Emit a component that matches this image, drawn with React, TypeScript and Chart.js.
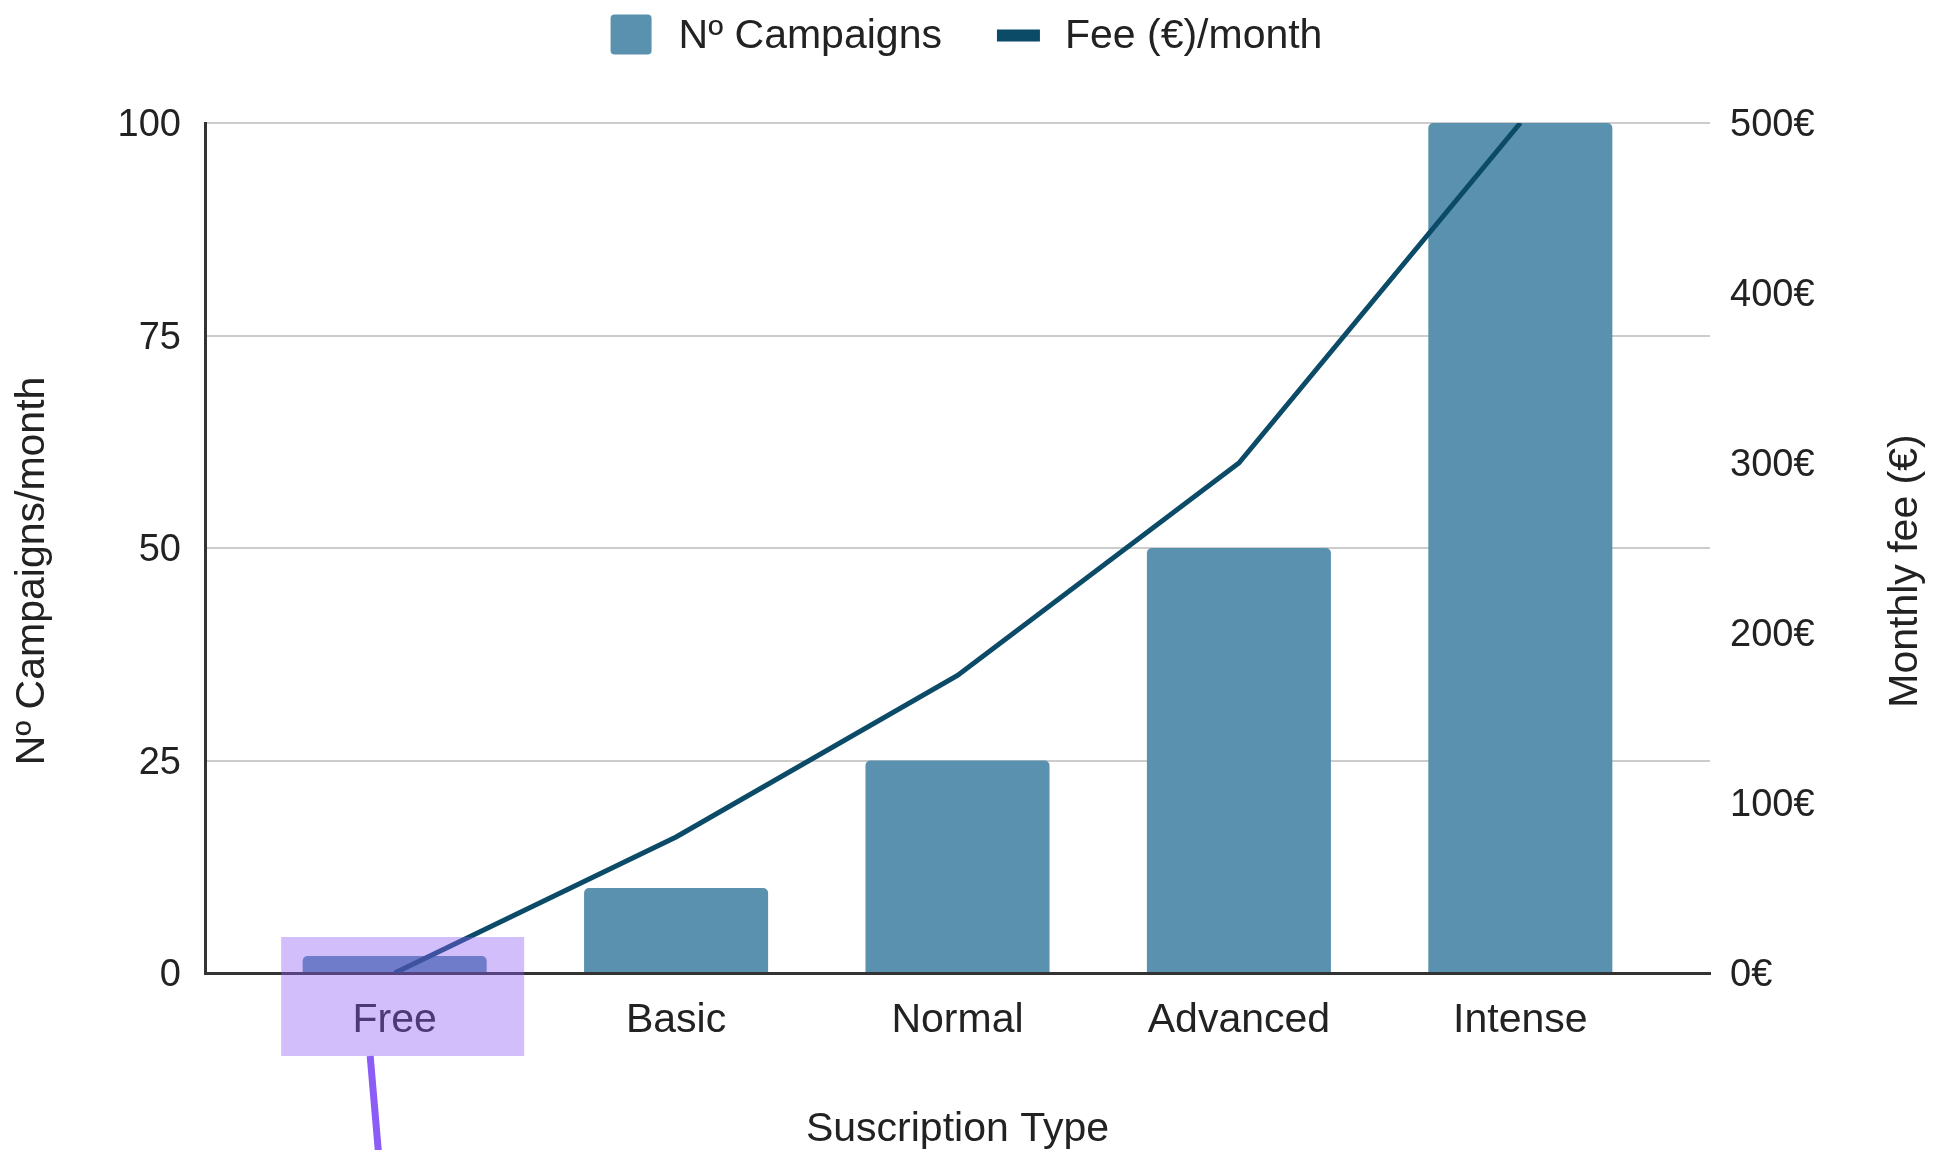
import React, { useEffect, useRef } from "react";
import { Chart, registerables } from "chart.js";

Chart.register(...registerables);

const categories = ["Free", "Basic", "Normal", "Advanced", "Intense"];
const campaigns = [2, 10, 25, 50, 100];
const fees = [0, 80, 175, 300, 500];
const leftTicks = [0, 25, 50, 75, 100];
const rightTicks = [0, 100, 200, 300, 400, 500];
const seriesNames = ["Nº Campaigns", "Fee (€)/month"];
const xTitle = "Suscription Type";
const yLeftTitle = "Nº Campaigns/month";
const yRightTitle = "Monthly fee (€)";

const FONT = '"Liberation Sans", Arial, sans-serif';
const BAR_COLOR = "#5a91ae";
const LINE_COLOR = "#0c4b68";
const TEXT_COLOR = "#222222";

const decorPlugin = {
  id: "decor",
  afterDraw(chart: any) {
    const ctx: CanvasRenderingContext2D = chart.ctx;
    const area = chart.chartArea;
    const xs = chart.scales.x;
    ctx.save();

    // Legend
    ctx.font = `41px ${FONT}`;
    ctx.textBaseline = "middle";
    ctx.textAlign = "left";
    ctx.fillStyle = TEXT_COLOR;
    const w1 = ctx.measureText(seriesNames[0]).width;
    const w2 = ctx.measureText(seriesNames[1]).width;
    const box1 = 41, gap1 = 27, between = 55, box2 = 43, gap2 = 25;
    const total = box1 + gap1 + w1 + between + box2 + gap2 + w2;
    let lx = chart.width / 2 - total / 2;
    const cy = 34.5;
    const ty = 37;
    ctx.fillStyle = BAR_COLOR;
    ctx.beginPath();
    (ctx as any).roundRect(lx, cy - 20, box1, 40, 4);
    ctx.fill();
    lx += box1 + gap1;
    ctx.fillStyle = TEXT_COLOR;
    ctx.fillText(seriesNames[0], lx, ty);
    lx += w1 + between;
    ctx.fillStyle = LINE_COLOR;
    ctx.fillRect(lx, 35.5 - 6, box2, 12);
    lx += box2 + gap2;
    ctx.fillStyle = TEXT_COLOR;
    ctx.fillText(seriesNames[1], lx, ty);

    // Axis titles
    ctx.textAlign = "center";
    ctx.fillText(xTitle, (area.left + area.right) / 2, 1130);
    ctx.save();
    ctx.translate(33, 571);
    ctx.rotate(-Math.PI / 2);
    ctx.fillText(yLeftTitle, 0, 0);
    ctx.restore();
    ctx.save();
    ctx.translate(1906, 571);
    ctx.rotate(-Math.PI / 2);
    ctx.fillText(yRightTitle, 0, 0);
    ctx.restore();

    // Highlight annotation around the first category label
    const cx = xs.getPixelForValue(0);
    ctx.fillStyle = "rgba(139, 92, 246, 0.4)";
    ctx.fillRect(cx - 113.5, area.bottom - 36, 243, 119);
    ctx.strokeStyle = "#8b5cf6";
    ctx.lineWidth = 7;
    ctx.beginPath();
    ctx.moveTo(cx - 24.5, area.bottom + 83);
    ctx.lineTo(cx - 16, chart.height + 5);
    ctx.stroke();

    ctx.restore();
  },
};

export default function App() {
  const ref = useRef<HTMLCanvasElement>(null);

  useEffect(() => {
    const chart = new Chart(ref.current as HTMLCanvasElement, {
      type: "bar",
      data: {
        datasets: [
          {
            type: "line",
            label: seriesNames[1],
            data: fees.map((v, i) => ({ x: i, y: v })),
            yAxisID: "y1",
            borderColor: LINE_COLOR,
            backgroundColor: LINE_COLOR,
            borderWidth: 5,
            pointRadius: 0,
            tension: 0,
            order: 0,
          } as any,
          {
            type: "bar",
            label: seriesNames[0],
            data: campaigns.map((v, i) => ({ x: i, y: v })),
            yAxisID: "y",
            backgroundColor: BAR_COLOR,
            borderRadius: 5,
            borderSkipped: "start",
            categoryPercentage: 1,
            barPercentage: 0.654,
            order: 1,
          } as any,
        ],
      },
      options: {
        responsive: false,
        animation: false,
        events: [],
        layout: { padding: { top: 123, left: 0, right: 0, bottom: 0 } },
        plugins: {
          legend: { display: false },
          tooltip: { enabled: false },
          title: { display: false },
        },
        scales: {
          x: {
            type: "linear",
            min: -0.674,
            max: 4.674,
            offset: false,
            z: 1,
            afterFit: (s: any) => {
              s.height = 177;
            },
            afterBuildTicks: (s: any) => {
              s.ticks = categories.map((_, i) => ({ value: i }));
            },
            grid: { display: false, drawTicks: false },
            border: { display: true, color: "#333333", width: 3 },
            ticks: {
              callback: (v: any) => categories[v],
              font: { family: FONT, size: 41 },
              color: TEXT_COLOR,
              padding: 23,
              maxRotation: 0,
              autoSkip: false,
            },
          },
          y: {
            position: "left",
            min: 0,
            max: 100,
            afterFit: (s: any) => {
              s.width = 205;
            },
            afterBuildTicks: (s: any) => {
              s.ticks = leftTicks.map((v) => ({ value: v }));
            },
            grid: {
              color: (c: any) => (c.tick && c.tick.value === 0 ? "rgba(0,0,0,0)" : "#cccccc"),
              lineWidth: 2,
              drawTicks: false,
            },
            border: { display: true, color: "#333333", width: 3 },
            ticks: {
              font: { family: FONT, size: 38 },
              color: TEXT_COLOR,
              padding: 24,
              labelOffset: 3,
            },
          },
          y1: {
            position: "right",
            min: 0,
            max: 500,
            afterFit: (s: any) => {
              s.width = 223;
            },
            afterBuildTicks: (s: any) => {
              s.ticks = rightTicks.map((v) => ({ value: v }));
            },
            grid: { drawOnChartArea: false, drawTicks: false },
            border: { display: false },
            ticks: {
              callback: (v: any) => `${v}€`,
              font: { family: FONT, size: 38 },
              color: TEXT_COLOR,
              padding: 20,
              labelOffset: 3,
            },
          },
        },
      } as any,
      plugins: [decorPlugin],
    });
    return () => chart.destroy();
  }, []);

  return (
    <div style={{ position: "absolute", left: 0, top: 0, width: 1933, height: 1150, background: "#ffffff" }}>
      <canvas ref={ref} width={1933} height={1150} style={{ display: "block", width: 1933, height: 1150 }} />
    </div>
  );
}
